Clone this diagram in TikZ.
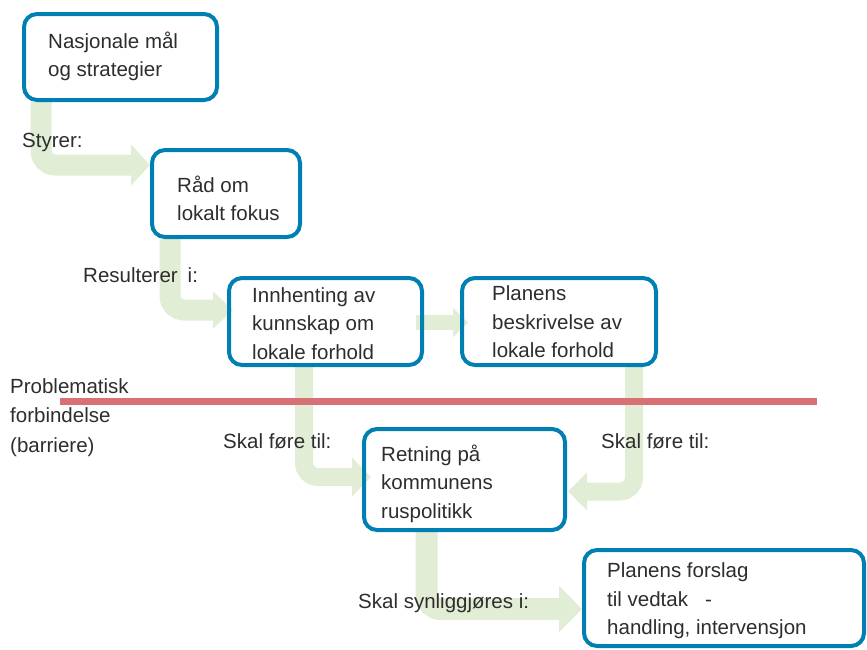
\documentclass[tikz,border=0pt]{standalone}
\usepackage{fontspec}
\setmainfont{Liberation Sans}
\usetikzlibrary{arrows.meta,backgrounds,calc}
\definecolor{boxblue}{RGB}{0,128,178}
\definecolor{flowgreen}{RGB}{226,237,214}
\definecolor{barred}{RGB}{216,113,117}
\definecolor{txt}{RGB}{45,45,45}
\begin{document}
\begin{tikzpicture}[x=1pt,y=-1pt,
  box/.style={draw=boxblue, line width=4pt, rounded corners=13pt, rectangle, inner sep=0pt},
  lbl/.style={font=\fontsize{20.5pt}{28.5pt}\selectfont, text=txt, align=left, inner sep=0pt, anchor=base west},
  flow/.style={draw=flowgreen, rounded corners=14pt, line cap=butt}]
\useasboundingbox (0,0) rectangle (867,649);
% boxes
\node[box, minimum width=193pt, minimum height=86pt] (b1) at (120.5,57) {};
\node[box, minimum width=148pt, minimum height=87pt] (b2) at (226,193.5) {};
\node[box, minimum width=193pt, minimum height=87pt] (b3) at (325.5,321.5) {};
\node[box, minimum width=194pt, minimum height=87pt] (b4) at (559,321.5) {};
\node[box, minimum width=201pt, minimum height=101pt] (b5) at (464.5,479.5) {};
\node[box, minimum width=280pt, minimum height=96pt] (b6) at (724,598) {};
% box texts (anchor = baseline of last line)
\node[lbl] (t1) at (48,76.5) {Nasjonale mål\\og strategier};
\node[lbl] (t2) at (177,220.5) {Råd om\\lokalt fokus};
\node[lbl] (t3) at (252,359) {Innhenting av\\kunnskap om\\lokale forhold};
\node[lbl] (t4) at (492,357.5) {Planens\\beskrivelse av\\lokale forhold};
\node[lbl] (t5) at (381,518) {Retning på\\kommunens\\ruspolitikk};
\node[lbl] (t6) at (607,634.5) {Planens forslag\\til vedtak\hspace{17pt}-\\handling, intervensjon};
% flows
\begin{pgfonlayer}{background}
\draw[flow, line width=21pt, -{Triangle[length=19pt,width=40pt]}]
  ([xshift=19pt]b1.south west) |- ([yshift=28.5pt]b2.west);
\draw[flow, line width=21pt, -{Triangle[length=20pt,width=36pt]}]
  ([xshift=20pt]b2.south west) |- ([xshift=6pt,yshift=11.5pt]b3.west);
\draw[flow, line width=15pt, -{Triangle[length=15pt,width=29pt]}]
  ([xshift=-8pt,yshift=-1pt]b3.east) -- ([xshift=8pt,yshift=-1pt]b4.west);
\draw[flow, line width=18pt, -{Triangle[length=19pt,width=38pt]}]
  ([xshift=77pt]b3.south west) |- ([xshift=9pt,yshift=2.5pt]b5.west);
\draw[flow, line width=18pt, -{Triangle[length=19pt,width=37pt]}]
  ([xshift=174pt]b4.south west) |- ([xshift=1pt,yshift=-12pt]b5.east);
\draw[flow, line width=22pt, -{Triangle[length=23pt,width=45pt]}]
  ([xshift=64.5pt]b5.south west) |- ([yshift=-11pt]b6.west);
\end{pgfonlayer}
% barrier
\coordinate (r1) at (60,401.5);
\coordinate (r2) at (817,401.5);
\draw[barred, line width=7pt] (r1) -- (r2);
% labels
\node[lbl] (l1) at (22,147) {Styrer:};
\node[lbl] (l2) at (83,282) {Resulterer\hspace{10pt}i:};
\node[lbl, font=\fontsize{20.5pt}{29.5pt}\selectfont] (l3) at (10,452) {Problematisk\\forbindelse\\(barriere)};
\node[lbl] (l4) at (223,448) {Skal føre til:};
\node[lbl] (l5) at (601,448) {Skal føre til:};
\node[lbl] (l6) at (358,608) {Skal synliggjøres i:};
\end{tikzpicture}
\end{document}
